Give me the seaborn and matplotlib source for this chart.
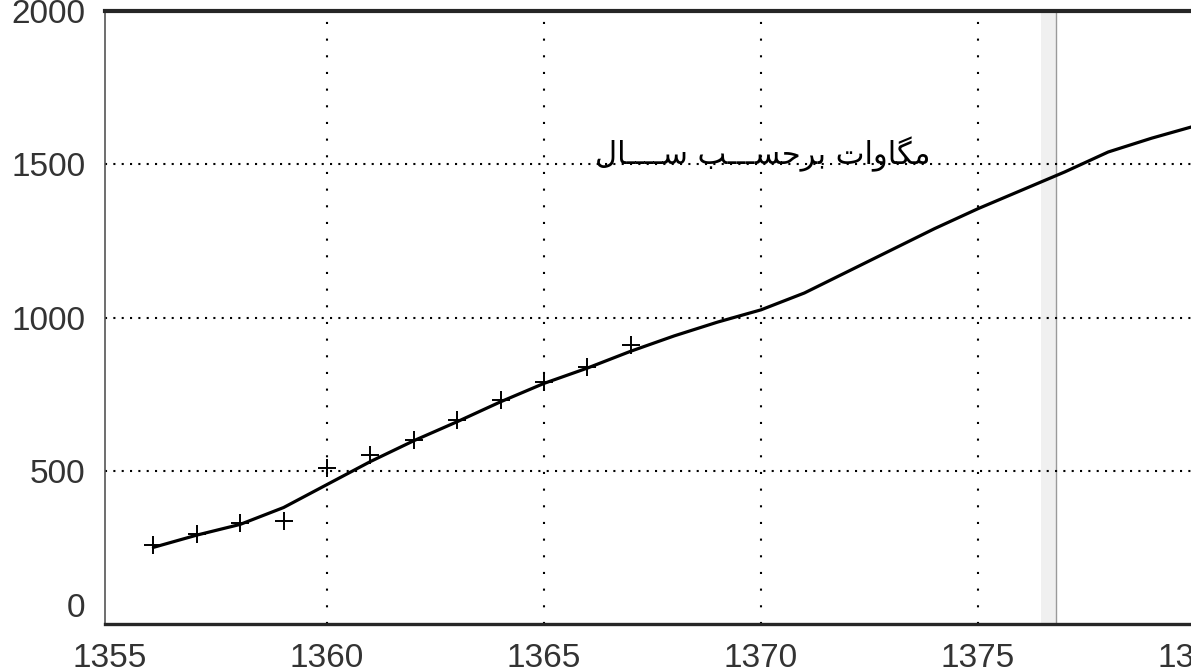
import matplotlib
matplotlib.use("Agg")
import pandas as pd
import seaborn as sns
import matplotlib.pyplot as plt

# fitted curve (megawatts per year)
curve_years = [1356, 1357, 1358, 1359, 1360, 1361, 1362, 1363, 1364, 1365, 1366, 1367, 1368,
               1369, 1370, 1371, 1372, 1373, 1374, 1375, 1376, 1377, 1378, 1379, 1380]
curve_mw = [250, 290, 325, 380, 455, 530, 598, 660, 725, 785, 835, 890, 940,
            985, 1025, 1080, 1150, 1220, 1290, 1355, 1415, 1475, 1540, 1585, 1625]

# observed points
obs_years = [1356, 1357, 1358, 1359, 1360, 1361, 1362, 1363, 1364, 1365, 1366, 1367]
obs_mw = [258, 294, 330, 337, 508, 550, 600, 665, 730, 790, 838, 910]

x_ticks = [1355, 1360, 1365, 1370, 1375, 1380]
y_ticks = [0, 500, 1000, 1500, 2000]

# "مگاوات برحسب سال" in presentation forms, reversed for left-to-right drawing
word1 = "\uFEE3\uFB95\uFE8E\uFEED\uFE8D\uFE95"
word2 = "\uFE91\uFEAE\uFEA3\uFEB4\u0640\u0640\u0640\uFE90"
word3 = "\uFEB3\u0640\u0640\u0640\u0640\uFE8E\uFEDD"
label_text = (word1 + " " + word2 + " " + word3)[::-1]

curve_df = pd.DataFrame({"year": curve_years, "mw": curve_mw})
obs_df = pd.DataFrame({"year": obs_years, "mw": obs_mw})

sns.set_style("white")
plt.rcParams["font.family"] = ["Liberation Sans", "DejaVu Sans"]

fig = plt.figure(figsize=(11.91, 6.68), dpi=100)
ax = fig.add_axes([105 / 1191, 44 / 668, 1090 / 1191, 613 / 668])

# scanner artefact: page fold
ax.axvspan(1376.45, 1376.8, color="#f0f0f0", lw=0, zorder=0)
ax.axvline(1376.8, color="#9a9a9a", lw=1.0, zorder=1)

sns.lineplot(data=curve_df, x="year", y="mw", ax=ax, color="black", lw=2.3, zorder=3)
sns.scatterplot(data=obs_df, x="year", y="mw", ax=ax, marker="+", s=160,
                color="black", linewidth=1.4, zorder=4)

ax.set_xlim(1354.885, 1380)
ax.set_ylim(0, 2000)
ax.set_xticks(x_ticks)
ax.set_yticks(y_ticks)
ax.set_xlabel("")
ax.set_ylabel("")

for v in x_ticks[1:-1]:
    ax.axvline(v, color="black", lw=1.5, ls=(0, (1, 7)), zorder=2)
for v in y_ticks[1:-1]:
    ax.axhline(v, color="black", lw=1.5, ls=(0, (1, 3)), zorder=2)

ax.tick_params(axis="both", direction="in", length=7, width=1.2, colors="black",
               labelsize=24, labelcolor="#333333")
ax.tick_params(axis="x", pad=14)
ax.tick_params(axis="y", pad=14)
ax.get_yticklabels()[0].set_va("bottom")

ax.spines["left"].set_color("#555555")
ax.spines["left"].set_linewidth(1.2)
ax.spines["bottom"].set_linewidth(2.4)
ax.spines["top"].set_linewidth(3.0)
ax.spines["right"].set_visible(False)

ax.text(1373.9, 1500, label_text, ha="right", va="baseline", fontsize=22,
        family=["DejaVu Sans"], color="black", zorder=5)

fig.savefig("out.png", dpi=100)
